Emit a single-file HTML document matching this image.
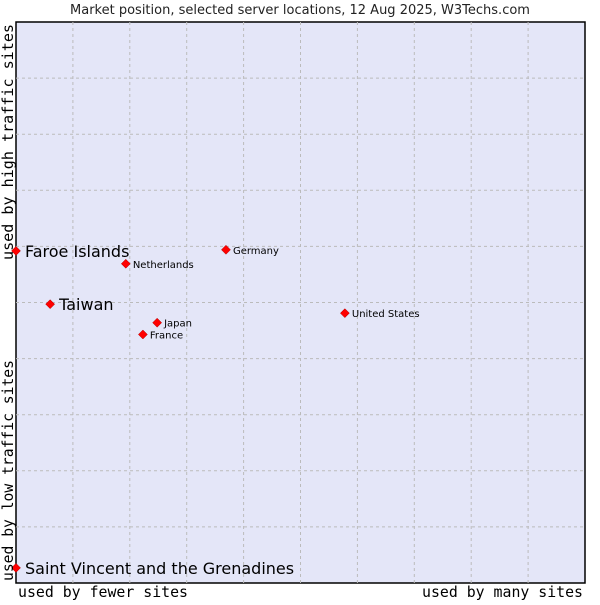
<!DOCTYPE html>
<html><head><meta charset="utf-8"><style>
body{margin:0;background:#fff;width:600px;height:600px;overflow:hidden}
svg{font-family:"DejaVu Sans","Liberation Sans",sans-serif}
</style></head><body>
<svg width="600" height="600">
<text x="300" y="14" text-anchor="middle" font-size="13" fill="#222">Market position, selected server locations, 12 Aug 2025, W3Techs.com</text>
<rect x="16" y="22" width="569" height="561" fill="#e4e6f8" stroke="#000" stroke-width="1.5"/>
<g id="grid"></g>
<g id="pts"></g>
<text x="18" y="597" font-family="DejaVu Sans Mono, Liberation Mono, monospace" font-size="15" textLength="170" lengthAdjust="spacingAndGlyphs">used by fewer sites</text>
<text x="422" y="597" font-family="DejaVu Sans Mono, Liberation Mono, monospace" font-size="15" textLength="161" lengthAdjust="spacingAndGlyphs">used by many sites</text>
<text transform="translate(13,581) rotate(-90)" font-family="DejaVu Sans Mono, Liberation Mono, monospace" font-size="15" textLength="221" lengthAdjust="spacingAndGlyphs">used by low traffic sites</text>
<text transform="translate(13,260) rotate(-90)" font-family="DejaVu Sans Mono, Liberation Mono, monospace" font-size="15" textLength="236" lengthAdjust="spacingAndGlyphs">used by high traffic sites</text>
</svg>
<script>
const names=["Faroe Islands","Taiwan","Saint Vincent and the Grenadines","Netherlands","Germany","United States","Japan","France"];
const xs=[0,6.0,0,19.3,36.9,57.8,24.8,22.3];
const ys=[59.2,49.7,2.7,56.9,59.4,48.1,46.4,44.3];
const big=[true,true,true,false,false,false,false,false];
const L=16,T=22,W=569,H=561,NS="http://www.w3.org/2000/svg";
const sx=v=>L+v/100*W, sy=v=>T+H-v/100*H;
const g=document.getElementById('grid'),p=document.getElementById('pts');
for(let i=1;i<10;i++){
 let a=document.createElementNS(NS,'line');
 
 
 a.setAttribute('x1',sx(i*10));a.setAttribute('x2',sx(i*10));a.setAttribute('y1',T);a.setAttribute('y2',T+H);
 a.setAttribute('stroke','#bbb');a.setAttribute('stroke-dasharray','3,3');g.appendChild(a);
 let b=document.createElementNS(NS,'line');
 
 
 b.setAttribute('y1',sy(i*10));b.setAttribute('y2',sy(i*10));b.setAttribute('x1',L);b.setAttribute('x2',L+W);
 b.setAttribute('stroke','#bbb');b.setAttribute('stroke-dasharray','3,3');g.appendChild(b);
}
names.forEach((n,i)=>{
 const x=sx(xs[i]),y=sy(ys[i]);
 const d=document.createElementNS(NS,'path');
 
 
 d.setAttribute('d',`M${x} ${y-4.5}L${x+4.5} ${y}L${x} ${y+4.5}L${x-4.5} ${y}Z`);
 d.setAttribute('fill','#f00');d.setAttribute('stroke','#a00');d.setAttribute('stroke-width','0.5');p.appendChild(d);
 const t=document.createElementNS(NS,'text');
 
 
 t.setAttribute('x',x+(big[i]?9:7));t.setAttribute('y',y+(big[i]?6:4));
 t.setAttribute('font-size',big[i]?'16':'10');t.textContent=n;p.appendChild(t);
});
</script>
</body></html>
